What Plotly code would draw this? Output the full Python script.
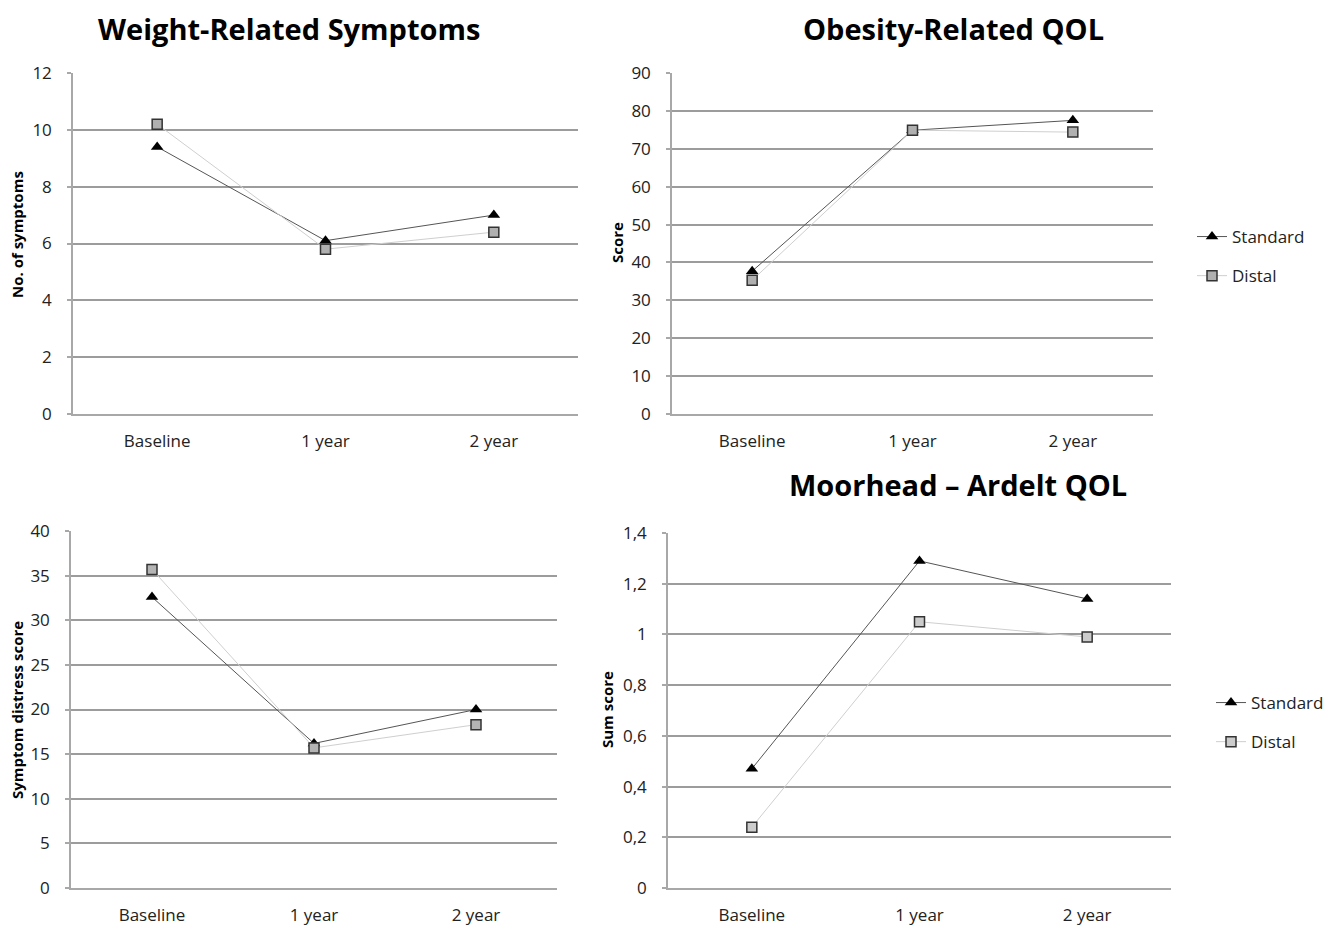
import plotly.graph_objects as go

categories = ["Baseline", "1 year", "2 year"]

# Weight-Related Symptoms
symptoms_standard = [9.4, 6.1, 7.0]
symptoms_distal = [10.2, 5.8, 6.4]

# Obesity-Related QOL
oqol_standard = [37.7, 74.9, 77.5]
oqol_distal = [35.3, 74.9, 74.4]

# Symptom distress score
distress_standard = [32.6, 16.2, 20.0]
distress_distal = [35.7, 15.7, 18.3]

# Moorhead - Ardelt QOL
ma_standard = [0.47, 1.29, 1.14]
ma_distal = [0.24, 1.05, 0.99]

W, H = 1338, 925
OFF = 8  # page body margin
FONT = "Open Sans, Liberation Sans, sans-serif"

def fx(x):
    return (x - OFF) / W

def fy(y):
    return 1 - (y - OFF) / H

def px_x(a, b):
    return [fx(a), fx(b)]

def px_y(top, bottom):
    return [fy(bottom), fy(top)]

panels = [
    ("", px_x(73, 578), px_y(73, 414), [0, 12], 2, symptoms_standard, symptoms_distal, None, "#b0b0b0"),
    ("2", px_x(672, 1153), px_y(73, 414), [0, 90], 10, oqol_standard, oqol_distal, "legend", "#b0b0b0"),
    ("3", px_x(71, 557), px_y(531, 888), [0, 40], 5, distress_standard, distress_distal, None, "#b4b4b4"),
    ("4", px_x(668, 1171), px_y(533, 888), [0, 1.40001], 0.2, ma_standard, ma_distal, "legend2", "#cccccc"),
]

fig = go.Figure()
layout = {}
for ax, dx, dy, yr, dt, std, dist, leg, dfill in panels:
    xa = "x" + ax
    ya = "y" + ax
    show = leg is not None
    fig.add_trace(go.Scatter(
        x=categories, y=std, name="Standard", mode="lines+markers",
        xaxis=xa, yaxis=ya,
        line=dict(color="#555555", width=1),
        marker=dict(symbol="triangle-up", size=11, color="#000000"),
        showlegend=show, legend=leg if leg else "legend", legendgroup="s" + ax,
    ))
    fig.add_trace(go.Scatter(
        x=categories, y=dist, name="Distal", mode="lines+markers",
        xaxis=xa, yaxis=ya,
        line=dict(color="#cfcfcf", width=1),
        marker=dict(symbol="square", size=10, color=dfill,
                    line=dict(color="#333333", width=1.5)),
        showlegend=show, legend=leg if leg else "legend", legendgroup="d" + ax,
    ))
    layout["xaxis" + ax] = dict(
        domain=dx, anchor=ya, type="category", range=[-0.5, 2.5],
        showgrid=False, showline=True, linecolor="#a8a8a8", linewidth=1.5,
        ticks="", tickfont=dict(family=FONT, size=17, color="#222222"),
        ticklabelstandoff=11, fixedrange=True, automargin=False,
    )
    layout["yaxis" + ax] = dict(
        domain=dy, anchor=xa, range=yr, dtick=dt, tick0=0,
        showgrid=True, gridcolor="#9c9c9c", gridwidth=1.5,
        showline=True, linecolor="#a8a8a8", linewidth=1.5,
        ticks="outside", ticklen=4, tickcolor="#a8a8a8", tickwidth=1.5,
        zeroline=False,
        tickfont=dict(family=FONT, size=17, color="#222222"),
        ticklabelstandoff=12, fixedrange=True, automargin=False,
    )

# (text, center x, top y or center y, anchor)
titles = [
    ("Weight-Related Symptoms", 289, 8, "top"),
    ("Obesity-Related QOL", 953, 8, "top"),
    ("Moorhead \u2013 Ardelt QOL", 958, 485, "middle"),
]
ytitles = [
    ("No. of symptoms", 17, 235),
    ("Score", 617, 243),
    ("Symptom distress score", 17, 710),
    ("Sum score", 607, 710),
]
annotations = []
for t, x, y, anc in titles:
    annotations.append(dict(
        text="<b>%s</b>" % t, x=fx(x), y=fy(y), xref="paper", yref="paper",
        xanchor="center", yanchor=anc, showarrow=False, borderpad=0,
        font=dict(family=FONT, size=29, color="#000000"),
    ))
for t, x, y in ytitles:
    annotations.append(dict(
        text="<b>%s</b>" % t, x=fx(x), y=fy(y), xref="paper", yref="paper",
        xanchor="center", yanchor="middle", showarrow=False, textangle=-90,
        font=dict(family=FONT, size=15, color="#000000"),
    ))

legend_style = dict(
    font=dict(family=FONT, size=17, color="#222222"),
    bgcolor="rgba(0,0,0,0)", tracegroupgap=14,
    xanchor="left", yanchor="top",
)

fig.update_layout(
    width=W, height=H, margin=dict(l=0, r=0, t=0, b=0, pad=0, autoexpand=False),
    paper_bgcolor="white", plot_bgcolor="white",
    separators=", ",
    annotations=annotations,
    legend=dict(x=fx(1192), y=fy(219), **legend_style),
    legend2=dict(x=fx(1211), y=fy(685), **legend_style),
    **layout,
)

fig.write_html("out.html")
